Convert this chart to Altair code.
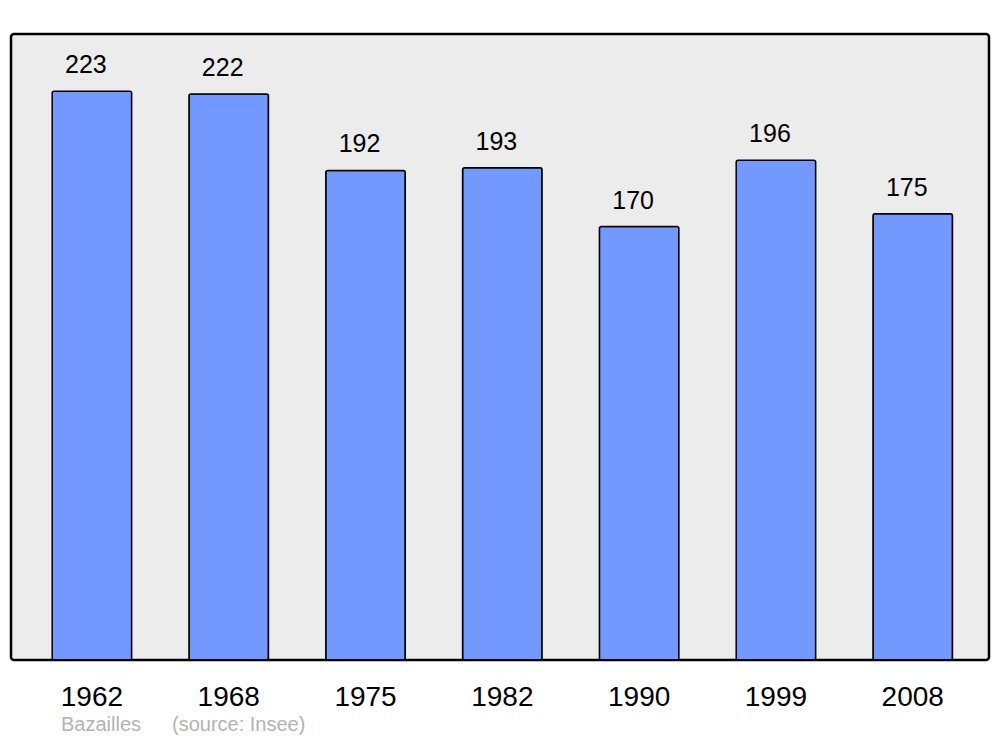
import altair as alt
import pandas as pd

years = ["1962", "1968", "1975", "1982", "1990", "1999", "2008"]
population = [223, 222, 192, 193, 170, 196, 175]
commune = ["Bazailles"]
source = ["(source: Insee)"]

df = pd.DataFrame({"year": years, "pop": population})

FONT = "Liberation Sans"

x = alt.X("year:N", sort=years, title=None,
          scale=alt.Scale(paddingInner=0.419, paddingOuter=0.284, align=0.53),
          axis=alt.Axis(labelAngle=0, labelFontSize=28, labelColor="black",
                        labelFont=FONT, domain=False, ticks=False, grid=False,
                        labelPadding=23))
y = alt.Y("pop:Q", title=None, scale=alt.Scale(domain=[0, 245.5], nice=False),
          axis=None)

bars = alt.Chart(df).mark_bar(
    fill="#7399ff", stroke="black", strokeWidth=1.5, cornerRadius=2
).encode(x=x, y=y)

labels = alt.Chart(df).mark_text(
    fontSize=25, font=FONT, color="black", dy=-18, dx=-6, baseline="alphabetic"
).encode(x=x, y=y, text="pop:Q")

foot1 = alt.Chart(pd.DataFrame({"t": commune})).mark_text(
    fontSize=20, font=FONT, color="#b3b3b3", align="left", baseline="alphabetic"
).encode(x=alt.value(50), y=alt.value(697), text="t:N")

foot2 = alt.Chart(pd.DataFrame({"t": source})).mark_text(
    fontSize=20, font=FONT, color="#b3b3b3", align="left", baseline="alphabetic"
).encode(x=alt.value(161), y=alt.value(697), text="t:N")

chart = alt.layer(bars, labels, foot1, foot2).properties(
    width=978, height=626,
    autosize=alt.AutoSizeParams(type="none"),
    padding={"left": 3, "top": 26, "right": 3, "bottom": 76},
    background="white",
).configure_view(
    fill="#ececec", stroke="black", strokeWidth=2.5, cornerRadius=3
)

chart.save("out.html", embed_options={"renderer": "svg", "actions": False})
